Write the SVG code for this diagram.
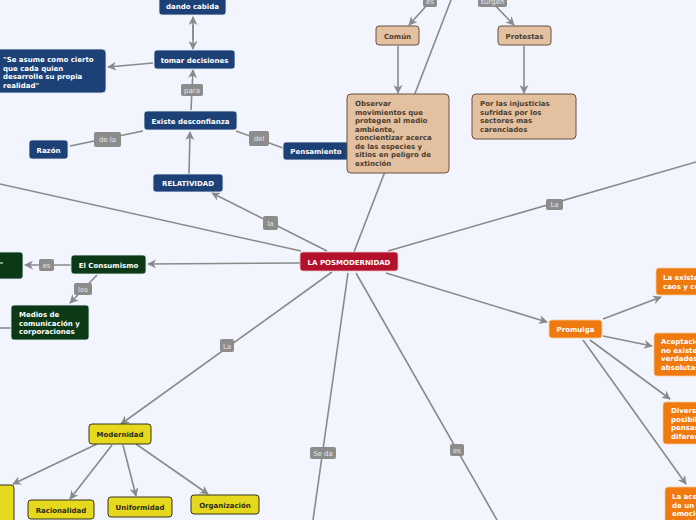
<svg xmlns="http://www.w3.org/2000/svg" width="696" height="520" viewBox="0 0 696 520">
<defs>
<marker id="ar" viewBox="0 0 10 10" refX="9" refY="5" markerWidth="9" markerHeight="9" markerUnits="userSpaceOnUse" orient="auto-start-reverse">
<path d="M0,0 L10,5 L0,10 L3,5 z" fill="#8a8a8a"/>
</marker>
<style>
text{font-family:"DejaVu Sans",Verdana,sans-serif;font-weight:bold;font-size:7px}
.c line{stroke:#8a8a8a;stroke-width:1.6}
.a{marker-end:url(#ar)}
.lb rect{fill:#8c8c8c}
.lb text{fill:#e6e6e6;font-weight:normal;font-size:7px;text-anchor:middle}
.blue rect{fill:#1b4177;stroke:#e8ecf5;stroke-width:0.8}
.green rect{fill:#0c3a17;stroke:#e8ecf5;stroke-width:0.8}
.tan rect{fill:#e3c09f;stroke:#665342;stroke-width:1}
.tan text{fill:#4a3d31}
.yel rect{fill:#e6d81d;stroke:#34341e;stroke-width:1}
.yel text{fill:#2a2a20}
.org rect{fill:#ef7b10;stroke:#f5c99a;stroke-width:0.8}
.w text{fill:#ffffff}
.m{text-anchor:middle}
</style>
</defs>
<rect width="696" height="520" fill="#f2f5fd"/>

<g id="connectors" class="c">
<line x1="354" y1="252" x2="451" y2="0"/>
<line x1="301" y1="251" x2="0" y2="184"/>
<line x1="327" y1="251" x2="212" y2="193" class="a"/>
<line x1="300" y1="263" x2="148" y2="264" class="a"/>
<line x1="332" y1="272" x2="121" y2="424" class="a"/>
<line x1="348" y1="273" x2="313" y2="520"/>
<line x1="356" y1="273" x2="497" y2="520"/>
<line x1="386" y1="273" x2="547" y2="322" class="a"/>
<line x1="388" y1="251" x2="696" y2="162"/>
<line x1="398" y1="46" x2="398" y2="93" class="a"/>
<line x1="524" y1="46" x2="524" y2="93" class="a"/>
<line x1="446" y1="-16" x2="409" y2="25" class="a"/>
<line x1="486" y1="-4" x2="514" y2="25" class="a"/>
<line x1="189" y1="174" x2="190" y2="132" class="a"/>
<line x1="191" y1="110" x2="193" y2="70" class="a"/>
<line x1="193" y1="40" x2="193" y2="17" class="a"/>
<line x1="193" y1="25" x2="193" y2="49" class="a"/>
<line x1="153" y1="63" x2="108" y2="67" class="a"/>
<line x1="70" y1="146" x2="143" y2="131"/>
<line x1="283" y1="148" x2="236" y2="131"/>
<line x1="71" y1="265" x2="25" y2="265" class="a"/>
<line x1="97" y1="275" x2="70" y2="303" class="a"/>
<line x1="0" y1="328" x2="11" y2="328"/>
<line x1="97" y1="444" x2="13" y2="484" class="a"/>
<line x1="112" y1="445" x2="70" y2="499" class="a"/>
<line x1="123" y1="445" x2="136" y2="496" class="a"/>
<line x1="136" y1="444" x2="208" y2="494" class="a"/>
<line x1="603" y1="319" x2="661" y2="297" class="a"/>
<line x1="603" y1="336" x2="652" y2="346" class="a"/>
<line x1="590" y1="340" x2="670" y2="399" class="a"/>
<line x1="583" y1="340" x2="686" y2="484" class="a"/>
<g class="lb">
<rect x="263" y="216" width="15" height="14" rx="2"/><text x="270.5" y="226">la</text>
<rect x="220" y="339" width="14" height="13" rx="2"/><text x="227" y="348.5">La</text>
<rect x="310" y="447" width="26" height="12" rx="2"/><text x="323" y="455.5">Se da</text>
<rect x="450" y="444" width="14" height="12" rx="2"/><text x="457" y="452.5">es</text>
<rect x="546" y="199" width="17" height="11" rx="2"/><text x="554.5" y="207">La</text>
<rect x="423" y="-5" width="14" height="12" rx="2"/><text x="430" y="4">es</text>
<rect x="478" y="-5" width="29" height="12" rx="2"/><text x="492.5" y="4">surgen</text>
<rect x="181" y="84" width="22" height="12" rx="2"/><text x="192" y="93">para</text>
<rect x="94" y="132" width="27" height="15" rx="2"/><text x="107.5" y="142">de la</text>
<rect x="249" y="131" width="20" height="15" rx="2"/><text x="259" y="141">del</text>
<rect x="39" y="259" width="15" height="12" rx="2"/><text x="46.5" y="268">es</text>
<rect x="74" y="283" width="18" height="12" rx="2"/><text x="83" y="292">los</text>
</g>
</g>

<g id="n-center" class="w"><rect x="300" y="252" width="98" height="19" rx="3" fill="#b3102b" stroke="#f0c0c8" stroke-width="0.8"/><text x="349" y="264.5" class="m">LA POSMODERNIDAD</text></g>

<g id="n-relatividad" class="blue w"><rect x="153" y="174" width="70" height="18" rx="3"/><text x="188" y="186" class="m">RELATIVIDAD</text></g>
<g id="n-existe" class="blue w"><rect x="144" y="111" width="93" height="19" rx="3"/><text x="190.5" y="123.5" class="m">Existe desconfianza</text></g>
<g id="n-tomar" class="blue w"><rect x="154" y="50" width="81" height="19" rx="3"/><text x="194.5" y="62.5" class="m">tomar decisiones</text></g>
<g id="n-dando" class="blue w"><rect x="159" y="-4" width="67" height="19" rx="3"/><text x="192.5" y="9" class="m">dando cabida</text></g>
<g id="n-seasume" class="blue w"><rect x="-10" y="49" width="116" height="44" rx="4"/>
<text x="3" y="62">"Se asume como cierto</text><text x="3" y="70.5">que cada quien</text><text x="3" y="79">desarrolle su propia</text><text x="3" y="87.5">realidad"</text></g>
<g id="n-razon" class="blue w"><rect x="29" y="140" width="39" height="19" rx="3"/><text x="48.5" y="152.5" class="m">Razón</text></g>
<g id="n-pensamiento" class="blue w"><rect x="283" y="142" width="66" height="18" rx="3"/><text x="316" y="154" class="m">Pensamiento</text></g>

<g id="n-comun" class="tan"><rect x="376" y="26" width="43" height="19" rx="3"/><text x="397.5" y="38.5" class="m">Común</text></g>
<g id="n-protestas" class="tan"><rect x="498" y="26" width="53" height="19" rx="3"/><text x="524.5" y="38.5" class="m">Protestas</text></g>
<g id="n-observar" class="tan"><rect x="347" y="94" width="102" height="79" rx="4"/>
<text x="355" y="106">Observar</text><text x="355" y="114.5">movimientos que</text><text x="355" y="123">protegen al medio</text><text x="355" y="131.5">ambiente,</text><text x="355" y="140">concientizar acerca</text><text x="355" y="148.5">de las especies y</text><text x="355" y="157">sitios en peligro de</text><text x="355" y="165.5">extinción</text></g>
<g id="n-injusticias" class="tan"><rect x="472" y="94" width="104" height="45" rx="4"/>
<text x="480" y="106">Por las injusticias</text><text x="480" y="114.5">sufridas por los</text><text x="480" y="123">sectores mas</text><text x="480" y="131.5">carenciados</text></g>

<g id="n-consumismo" class="green w"><rect x="71" y="255" width="75" height="19" rx="3"/><text x="108.5" y="267.5" class="m">El Consumismo</text></g>
<g id="n-green-left" class="green w"><rect x="-10" y="252" width="33" height="27" rx="3"/><line x1="0" y1="263" x2="3" y2="263" stroke="#ffffff" stroke-width="1"/></g>
<g id="n-medios" class="green w"><rect x="11" y="305" width="78" height="35" rx="3"/>
<text x="19" y="317">Medios de</text><text x="19" y="325.5">comunicación y</text><text x="19" y="334">corporaciones</text></g>

<g id="n-modernidad" class="yel"><rect x="89" y="424" width="62" height="20" rx="3"/><text x="120" y="436.5" class="m">Modernidad</text></g>
<g id="n-yel-left" class="yel"><rect x="-10" y="485" width="24" height="50" rx="3"/></g>
<g id="n-racionalidad" class="yel"><rect x="28" y="500" width="66" height="19" rx="3"/><text x="61" y="512.5" class="m">Racionalidad</text></g>
<g id="n-uniformidad" class="yel"><rect x="108" y="497" width="64" height="20" rx="3"/><text x="140" y="509.5" class="m">Uniformidad</text></g>
<g id="n-organizacion" class="yel"><rect x="191" y="495" width="68" height="19" rx="3"/><text x="225" y="507.5" class="m">Organización</text></g>

<g id="n-promulga" class="org w"><rect x="549" y="320" width="53" height="18" rx="3"/><text x="575.5" y="332" class="m">Promulga</text></g>
<g id="n-existencia" class="org w"><rect x="656" y="268" width="60" height="27" rx="3"/><text x="663" y="280">La existencia del</text><text x="663" y="288.5">caos y confusión</text></g>
<g id="n-aceptacion" class="org w"><rect x="654" y="333" width="60" height="43" rx="3"/><text x="661" y="344">Aceptación de que</text><text x="661" y="352.5">no existen</text><text x="661" y="361">verdades</text><text x="661" y="369.5">absolutas</text></g>
<g id="n-diversidad" class="org w"><rect x="663" y="402" width="50" height="42" rx="3"/><text x="671" y="413">Diversidad de</text><text x="671" y="421.5">posibilidades de</text><text x="671" y="430">pensamiento</text><text x="671" y="438.5">diferentes</text></g>
<g id="n-laaceptacion" class="org w"><rect x="665" y="487" width="40" height="45" rx="3"/><text x="672" y="499">La aceptación</text><text x="672" y="507.5">de un mundo</text><text x="672" y="516">emocional</text><text x="672" y="524.5">intuitivo</text></g>
</svg>
